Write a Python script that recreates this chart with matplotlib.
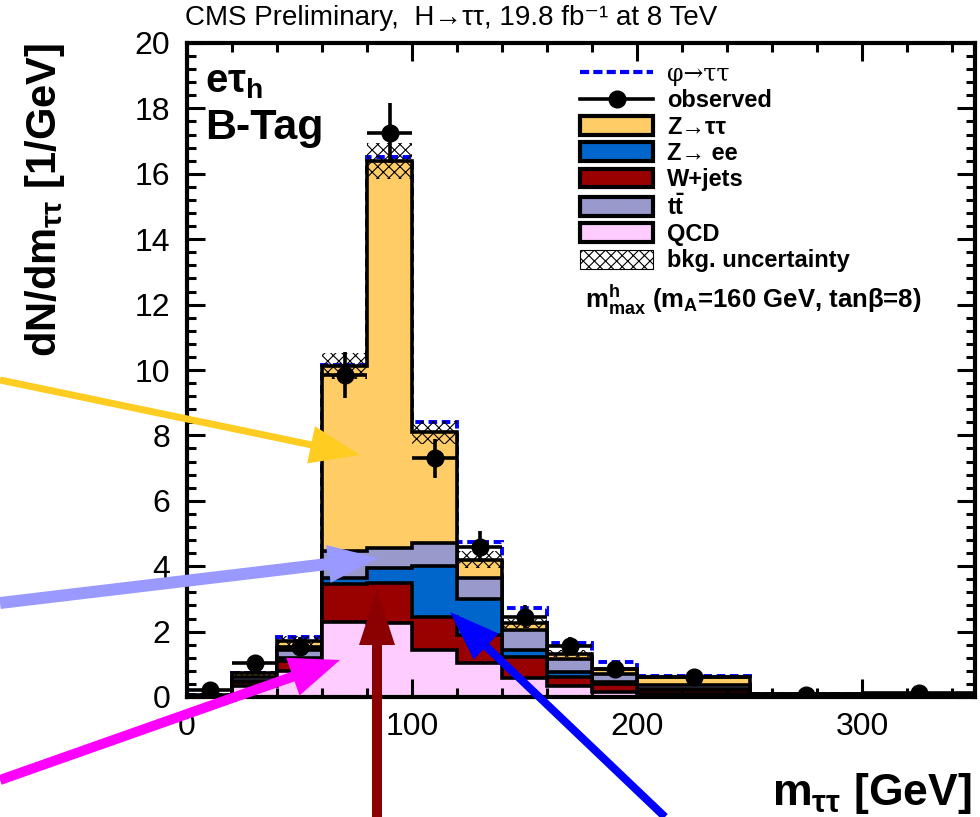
import numpy as np
import matplotlib
matplotlib.use("Agg")
import matplotlib.pyplot as plt
from matplotlib.patches import Patch, FancyArrow
from matplotlib.lines import Line2D
from matplotlib import font_manager

# ---------------- data ----------------
edges = [0, 20, 40, 60, 80, 100, 120, 140, 160, 180, 200, 250, 300, 350]
qcd    = [0.02, 0.35, 0.80, 2.30, 2.25, 1.45, 1.05, 0.58, 0.33, 0.15, 0.10, 0.03, 0.02]
wjets  = [0.01, 0.10, 0.30, 1.15, 1.25, 1.00, 0.85, 0.65, 0.29, 0.25, 0.10, 0.02, 0.02]
zee    = [0.005, 0.05, 0.10, 0.20, 0.45, 1.55, 1.10, 0.21, 0.13, 0.05, 0.05, 0.01, 0.01]
ttbar  = [0.005, 0.10, 0.25, 0.80, 0.60, 0.70, 0.63, 0.61, 0.40, 0.25, 0.13, 0.02, 0.02]
ztt    = [0.01, 0.12, 0.27, 5.67, 11.85, 3.40, 0.57, 0.20, 0.18, 0.15, 0.24, 0.02, 0.01]
signal = [0.00, 0.00, 0.12, 0.03, 0.10, 0.32, 0.55, 0.47, 0.31, 0.23, 0.02, 0.00, 0.00]
bkg_unc = [0.02, 0.08, 0.15, 0.40, 0.55, 0.35, 0.25, 0.15, 0.10, 0.07, 0.04, 0.01, 0.01]
obs     = [0.20, 1.05, 1.54, 9.85, 17.25, 7.30, 4.60, 2.45, 1.55, 0.85, 0.62, 0.06, 0.12]
obs_err = [0.10, 0.23, 0.28, 0.70, 0.93, 0.60, 0.48, 0.35, 0.28, 0.20, 0.11, 0.035, 0.05]

labels = ["\u03c6\u2192\u03c4\u03c4", "observed", "Z\u2192\u03c4\u03c4", "Z\u2192 ee",
          "W+jets", r"$\mathbf{t}\bar{\mathbf{t}}$", "QCD", "bkg. uncertainty"]

c_ztt, c_zee, c_w, c_tt, c_qcd = "#FFCC66", "#0066CC", "#990000", "#9999CC", "#FFCCFF"

# ---------------- fonts ----------------
names = {f.name for f in font_manager.fontManager.ttflist}
sans = "Liberation Sans" if "Liberation Sans" in names else "DejaVu Sans"
narrow = "Liberation Sans Narrow" if "Liberation Sans Narrow" in names else sans
plt.rcParams["font.family"] = [sans, "DejaVu Sans"]
plt.rcParams["mathtext.fontset"] = "custom"
plt.rcParams["mathtext.rm"] = sans
plt.rcParams["mathtext.bf"] = sans + ":bold"
plt.rcParams["mathtext.it"] = sans + ":italic"
plt.rcParams["mathtext.default"] = "bf"
plt.rcParams["hatch.linewidth"] = 0.8

edges_a = np.array(edges, float)
centers = 0.5 * (edges_a[1:] + edges_a[:-1])
halfw = 0.5 * (edges_a[1:] - edges_a[:-1])

layers = [np.array(v, float) for v in (qcd, wjets, zee, ttbar, ztt)]
cum = np.cumsum(layers, axis=0)
total = cum[-1]
cols = [c_qcd, c_w, c_zee, c_tt, c_ztt]

fig = plt.figure(figsize=(9.8, 8.17), dpi=100)
ax = fig.add_axes([187/980, 1-697/817, (975-187)/980, (697-43)/817])

# signal (drawn beneath the stack outlines)
ax.stairs(total + np.array(signal), edges_a, baseline=None, color="blue",
          linestyle=(0, (2.2, 1.2)), linewidth=2.8, zorder=0.9)

for i in range(4, -1, -1):
    ax.stairs(cum[i], edges_a, baseline=0, fill=True, facecolor=cols[i],
              edgecolor="black", linewidth=2.6, zorder=1 + (4 - i) * 0.01)

unc = np.array(bkg_unc)
ax.stairs(total + unc, edges_a, baseline=total - unc, fill=True, facecolor="none",
          edgecolor="black", hatch="xxx", linewidth=0, zorder=1.2)

ax.errorbar(centers, obs, yerr=obs_err, xerr=halfw, fmt="o", color="black",
            ms=12, elinewidth=2.6, capsize=0, zorder=3)

ax.set_xlim(0, 350)
ax.set_ylim(0, 20)
ax.set_xticks([0, 100, 200, 300])
ax.set_xticks(np.arange(0, 351, 20), minor=True)
ax.set_yticks(np.arange(0, 21, 2))
ax.set_yticks(np.arange(0, 20.01, 0.4), minor=True)
ax.tick_params(which="both", direction="in", top=True, right=True, width=2.2,
               labelsize=23)
ax.tick_params(which="major", length=13)
ax.tick_params(which="minor", length=6.5)
ax.tick_params(axis="y", pad=12)
ax.tick_params(axis="x", pad=11)
for s in ax.spines.values():
    s.set_linewidth(3)

# legend
handles = [
    Line2D([], [], color="blue", ls=(0, (2.2, 1.0)), lw=3),
    Line2D([], [], color="black", marker="o", ms=12, lw=2.6),
    Patch(facecolor=c_ztt, edgecolor="black", lw=3),
    Patch(facecolor=c_zee, edgecolor="black", lw=3),
    Patch(facecolor=c_w, edgecolor="black", lw=3),
    Patch(facecolor=c_tt, edgecolor="black", lw=3),
    Patch(facecolor=c_qcd, edgecolor="black", lw=3),
    Patch(facecolor="white", edgecolor="black", hatch="xxx", lw=0.8),
]
leg = ax.legend(handles, labels, loc="upper left",
                bbox_to_anchor=((580-187)/788, (697-63)/654),
                frameon=False, prop={"weight": "bold", "size": 17},
                handlelength=3.1, handleheight=0.85, handletextpad=0.6,
                labelspacing=0.14, borderpad=0, borderaxespad=0)
t0 = leg.get_texts()[0]
t0.set_fontweight("normal")
t0.set_family(["DejaVu Serif"])

# texts
fig.text(185/980, 1-18/817, "CMS Preliminary,  H\u2192\u03c4\u03c4, 19.8 fb\u207b\u00b9 at 8 TeV",
         family=[narrow, "DejaVu Sans"], fontsize=20, ha="left", va="center")
fig.text(205/980, 1-82/817, r"e$\tau_{h}$", fontsize=29, weight="bold", ha="left", va="center")
fig.text(205/980, 1-128/817, "B-Tag", fontsize=31, weight="bold", ha="left", va="center")
fig.text(585/980, 1-300/817, r"$m^{h}_{max}$ (m$_{A}$=160 GeV, tan" + "\u03b2=8)",
         fontsize=18.5, weight="bold", ha="left", va="center")
fig.text(45/980, 1-43/817, r"dN/dm$_{\tau\tau}$ [1/GeV]", fontsize=30, weight="bold",
         rotation=90, ha="center", va="top")
fig.text(972/980, 1-793/817, r"m$_{\tau\tau}$ [GeV]", fontsize=32, weight="bold",
         ha="right", va="center")

# overlay arrows (annotation)
ov = fig.add_axes([0, 0, 1, 1], zorder=10)
ov.set_xlim(0, 980)
ov.set_ylim(817, 0)
ov.axis("off")
ov.patch.set_alpha(0)
arrows = [
    ((0, 380), (360, 455), 7, 38, 50, "#FFCC22"),
    ((0, 603), (378, 558), 12, 38, 50, "#9999FF"),
    ((0, 780), (340, 660), 10, 40, 50, "#FF00FF"),
    ((377, 817), (377, 590), 10, 36, 55, "#8B0000"),
    ((665, 817), (450, 612), 8, 36, 50, "#0000FF"),
]
for (x0, y0), (x1, y1), w, hw, hl, c in arrows:
    ov.add_patch(FancyArrow(x0, y0, x1 - x0, y1 - y0, width=w, head_width=hw,
                            head_length=hl, length_includes_head=True,
                            color=c, lw=0))

fig.savefig("out.png", dpi=100)
